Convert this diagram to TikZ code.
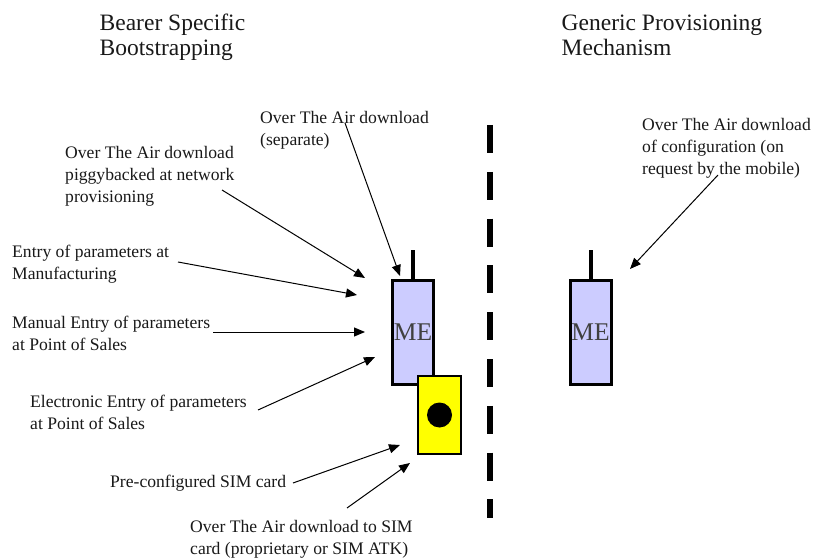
\documentclass[tikz,border=0pt]{standalone}
\usepackage{fontspec}
\setmainfont{Liberation Serif}
\usetikzlibrary{arrows.meta}
\begin{document}
\begin{tikzpicture}[x=1pt,y=-1pt,
  lbl/.style={anchor=north west, inner sep=0pt, align=left, text=black!90,
    font=\fontsize{17.6}{22}\selectfont},
  head/.style={anchor=north west, inner sep=0pt, align=left, text=black!90,
    font=\fontsize{23.5}{25}\selectfont},
  arr/.style={line width=1pt, -{Triangle[length=11pt,width=9pt]}},
  mebox/.style={draw=black, line width=3pt, fill=meblue, minimum width=41pt,
    minimum height=104pt, inner sep=0pt, font=\fontsize{25.5}{25.5}\selectfont, text=black!75},
  simbox/.style={draw=black, line width=2pt, fill=simyellow, minimum width=43pt,
    minimum height=78pt, inner sep=0pt},
  antenna/.style={line width=4pt},
  divider/.style={line width=6pt, dash pattern=on 28pt off 18.8pt}]
\definecolor{meblue}{HTML}{CCCCFF}
\definecolor{simyellow}{HTML}{FFFF00}
\useasboundingbox (0,0) rectangle (814,559);
\fill[white] (0,0) rectangle (814,559);

% headings
\node[head] (hleft) at (99.5,12.5) {\strut Bearer Specific\\Bootstrapping};
\node[head] (hright) at (561.5,12.5) {\strut Generic Provisioning\\Mechanism};

% divider
\coordinate (dtop) at (490,125);
\coordinate (dbot) at (490,518);
\draw[divider] (dtop) -- (dbot);

% mobiles
\node[mebox] (me1) at (413,332.5) {\raisebox{-2pt}{ME}};
\node[mebox] (me2) at (590.5,332) {\raisebox{-2pt}{ME}};
\coordinate (ant1) at (413,250);
\coordinate (ant2) at (591,250);
\draw[antenna] (ant1) -- (ant1 |- me1.north);
\draw[antenna] (ant2) -- (ant2 |- me2.north);

% SIM card
\node[simbox] (sim) at (439.5,415) {};
\fill[black] (sim.center) circle (12.5);

% labels
\node[lbl] (lsep) at (260,107.6) {\strut Over The Air download\\(separate)};
\node[lbl] (lpig) at (65,142.6) {\strut Over The Air download\\piggybacked at network\\provisioning};
\node[lbl] (lman) at (12,241.6) {\strut Entry of parameters at\\Manufacturing};
\node[lbl] (lpos) at (12,312.6) {\strut Manual Entry of parameters\\at Point of Sales};
\node[lbl] (lele) at (30,391.6) {\strut Electronic Entry of parameters\\at Point of Sales};
\node[lbl] (lpre) at (110,471.6) {\strut Pre-configured SIM card};
\node[lbl] (lota) at (190,516.6) {\strut Over The Air download to SIM\\card (proprietary or SIM ATK)};
\node[lbl] (lgen) at (642,114.6) {\strut Over The Air download\\of configuration (on\\request by the mobile)};

% arrow ends
\coordinate (s1) at (345,123);  \coordinate (t1) at (400,276);
\coordinate (s2) at (222,190);  \coordinate (t2) at (365,278);
\coordinate (s3) at (178,262);  \coordinate (t3) at (357,295);
\coordinate (s4) at (213,332);  \coordinate (t4) at (365,332);
\coordinate (s5) at (258,410);  \coordinate (t5) at (375,357);
\coordinate (s6) at (293,483);  \coordinate (t6) at (400,445);
\coordinate (s7) at (347,508);  \coordinate (t7) at (410,463);
\coordinate (s8) at (718,175);  \coordinate (t8) at (630,269);

\draw[arr] (s1) -- (t1);
\draw[arr] (s2) -- (t2);
\draw[arr] (s3) -- (t3);
\draw[arr] (s4) -- (t4);
\draw[arr] (s5) -- (t5);
\draw[arr] (s6) -- (t6);
\draw[arr] (s7) -- (t7);
\draw[arr] (s8) -- (t8);
\end{tikzpicture}
\end{document}
